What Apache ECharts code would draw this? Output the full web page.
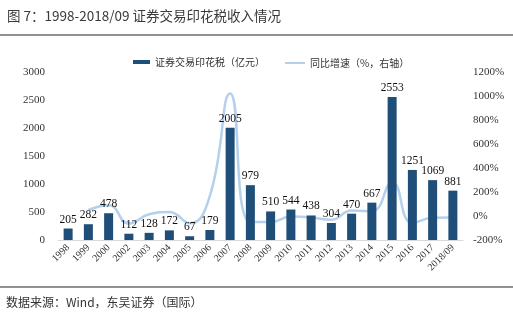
<!DOCTYPE html>
<html>
<head>
<meta charset="utf-8">
<script src="https://cdn.jsdelivr.net/npm/echarts@6/dist/echarts.min.js"></script>
<style>
html,body{margin:0;padding:0;background:#fff;}
#c{width:513px;height:324px;}
</style>
</head>
<body>
<div id="c"></div>
<script>
var categories = ['1998','1999','2000','2002','2003','2004','2005','2006','2007','2008','2009','2010','2011','2012','2013','2014','2015','2016','2017','2018/09'];
var stampTax = [205,282,478,112,128,172,67,179,2005,979,510,544,438,304,470,667,2553,1251,1069,881];
var growth = [null,50,90,-62,14,34,-61,167,1020,-51,-50,-5,-12,-31,45,40,280,-58,-15,-12];
var leftTicks = [0,500,1000,1500,2000,2500,3000];
var rightTicks = [-200,0,200,400,600,800,1000,1200];

var serif = '"Liberation Serif","DejaVu Serif",serif';
var sans = '"Noto Sans CJK SC","Noto Sans",sans-serif';
var chart = echarts.init(document.getElementById('c'));
chart.setOption({
  animation: false,
  backgroundColor: '#fff',
  graphic: [
    {type:'text', left:7, top:9, style:{text:'图 7：1998-2018/09 证券交易印花税收入情况', font:'13.5px '+sans, fill:'#3a3a3a'}},
    {type:'line', shape:{x1:0,y1:35,x2:513,y2:35}, style:{stroke:'#222', lineWidth:1.2}},
    {type:'line', shape:{x1:0,y1:287,x2:513,y2:287}, style:{stroke:'#222', lineWidth:1.2}},
    {type:'text', left:6, top:296, style:{text:'数据来源：Wind，东吴证券（国际）', font:'12px '+sans, fill:'#333'}}
  ],
  legend: [
    {data:[{name:'证券交易印花税（亿元）', icon:'rect'}], left:128, top:52, itemWidth:17, itemHeight:4, textStyle:{fontFamily:sans, fontSize:10, color:'#333'}},
    {data:[{name:'同比增速（%，右轴）', icon:'rect'}], left:280, top:53, itemWidth:20, itemHeight:2, textStyle:{fontFamily:sans, fontSize:10, color:'#333'}}
  ],
  grid: {left:58, right:50, top:72, bottom:84, containLabel:false},
  xAxis: {
    type:'category', data:categories,
    axisLine:{lineStyle:{color:'#d9d9d9', width:1}},
    axisTick:{show:false},
    axisLabel:{rotate:45, interval:0, fontFamily:serif, fontSize:10, color:'#333', margin:6}
  },
  yAxis: [
    {type:'value', min:leftTicks[0], max:leftTicks[leftTicks.length-1], interval:500,
     splitLine:{show:false}, axisLine:{show:false}, axisTick:{show:false},
     axisLabel:{fontFamily:serif, fontSize:11, color:'#333', margin:13, formatter:function(v){return String(v);}}},
    {type:'value', min:rightTicks[0], max:rightTicks[rightTicks.length-1], interval:200,
     splitLine:{show:false}, axisLine:{show:false}, axisTick:{show:false},
     axisLabel:{fontFamily:serif, fontSize:11, color:'#333', margin:10, formatter:function(v){return String(v)+'%';}}}
  ],
  series: [
    {name:'证券交易印花税（亿元）', type:'bar', data:stampTax, barWidth:9, yAxisIndex:0,
     itemStyle:{color:'#1f4e79'},
     label:{show:true, position:'top', distance:3, fontFamily:serif, fontSize:11.5, color:'#111'}},
    {name:'同比增速（%，右轴）', type:'line', data:growth, yAxisIndex:1, smooth:0.5,
     showSymbol:false, symbol:'none', z:1,
     lineStyle:{color:'#b4d0ec', width:2.5}, itemStyle:{color:'#b4d0ec'}}
  ]
});
</script>
</body>
</html>
